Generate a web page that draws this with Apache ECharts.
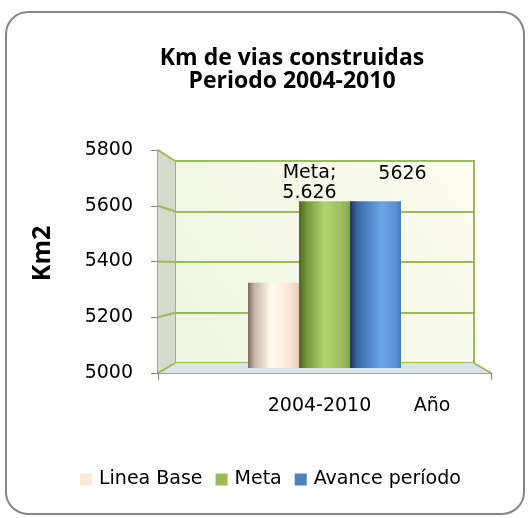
<!DOCTYPE html>
<html><head><meta charset="utf-8">
<script src="https://cdn.jsdelivr.net/npm/echarts@6/dist/echarts.min.js"></script>
<style>html,body{margin:0;padding:0;background:#fff}#c{width:531px;height:518px}</style>
</head><body><div id="c"></div>
<script>
// ---- data ----
const categories = ['2004-2010'];
const seriesNames = ['Linea Base', 'Meta', 'Avance período'];
const lineaBase = [5320];
const meta = [5626];
const avance = [5626];
const yMin = 5000, yMax = 5800, yStep = 200;
const titleLines = ['Km de vias construidas', 'Periodo 2004-2010'];
const yName = 'Km2';
const xName = 'Año';

// ---- layout ----
const W = 531, H = 518;
const front = {l: 158, r: 491, t: 150, b: 373};
const back = {l: 175, r: 474, t: 161, b: 363};
const barG = {l: 175, r: 474, t: 155, b: 368};
const FONT = 'DejaVu Sans';
const TFONT = 'Open Sans';
const green = '#9bbb59';
const grey = '#868686';

function dotThousands(v){ return String(v).replace(/\B(?=(\d{3})+(?!\d))/g, '.'); }
function hGrad(stops){ return new echarts.graphic.LinearGradient(0,0,1,0, stops.map(s=>({offset:s[0], color:s[1]}))); }

const yTicks = [];
for (let v = yMin; v <= yMax; v += yStep) yTicks.push(v);
const fy = v => front.b - (v - yMin) / (yMax - yMin) * (front.b - front.t);
const by = v => back.b - (v - yMin) / (yMax - yMin) * (back.b - back.t);

const graphics = [
  {type:'rect', shape:{x:6, y:12, width:518, height:502, r:22}, style:{fill:'none', stroke:grey, lineWidth:2}, z:0},
  {type:'polygon', shape:{points:[[front.l,front.t],[back.l,back.t],[back.l,back.b],[front.l,front.b]]}, style:{fill:'#d6dacd'}, z:1},
  {type:'polygon', shape:{points:[[front.l,front.b],[back.l,back.b],[back.r,back.b],[front.r,front.b]]}, style:{fill:'#dae2ea'}, z:1},
  {type:'line', shape:{x1:back.r, y1:back.b, x2:front.r, y2:front.b}, style:{stroke:green, lineWidth:2}, z:1}
];
yTicks.forEach(v => graphics.push({type:'line', shape:{x1:front.l, y1:fy(v), x2:back.l, y2:by(v)}, style:{stroke:green, lineWidth:2}, z:1}));

const chart = echarts.init(document.getElementById('c'), null, {renderer:'canvas'});
const grads = [
  hGrad([[0,'#7a6c64'],[0.12,'#c4b1a5'],[0.45,'#fffbf0'],[0.78,'#fde9d9'],[1,'#e6cdbd']]),
  hGrad([[0,'#4c6822'],[0.15,'#74953a'],[0.5,'#b3d36e'],[0.82,'#9fbf5d'],[1,'#88a84c']]),
  hGrad([[0,'#1c355e'],[0.15,'#3a68a6'],[0.62,'#6ca7ea'],[0.88,'#5a92d4'],[1,'#4a7dbd']])
];
const legendColors = ['#fde9d9', green, '#4f81bd'];
const values = [lineaBase, meta, avance];

const option = {
  animation: false,
  textStyle: {fontFamily: FONT},
  title: {
    text: titleLines.join('\n'),
    left: 292, top: 47, textAlign: 'center', padding: 0,
    textStyle: {fontFamily: TFONT, fontWeight: 'bold', fontSize: 23, lineHeight: 23, color: '#000'}
  },
  legend: {
    left: 80, top: 470, padding: 0, itemWidth: 12, itemHeight: 12, itemGap: 13, icon: 'rect',
    textStyle: {fontFamily: FONT, fontSize: 19, color: '#000', padding: [0,0,0,2]},
    data: seriesNames.map((n,i)=>({name:n, itemStyle:{color:legendColors[i]}}))
  },
  grid: [
    {left: front.l, right: W-front.r, top: front.t, bottom: H-front.b, show: false},
    {left: back.l, right: W-back.r, top: back.t, bottom: H-back.b, show: true, borderColor: green, borderWidth: 2,
     backgroundColor: new echarts.graphic.LinearGradient(0,1,1,0,[{offset:0,color:'#eef4e1'},{offset:1,color:'#fdfdf1'}])},
    {left: barG.l, right: W-barG.r, top: barG.t, bottom: H-barG.b, show: false}
  ],
  xAxis: [
    {gridIndex:0, type:'category', data: categories, boundaryGap: true,
     axisLine:{show:true, lineStyle:{color:grey, width:1.5}},
     axisTick:{show:true, length:7, lineStyle:{color:grey}},
     axisLabel:{fontFamily:FONT, fontSize:19, color:'#000', margin:24, padding:[0,10,0,0]},
     name: xName, nameLocation:'end', nameGap:-59,
     nameTextStyle:{fontFamily:FONT, fontSize:19, color:'#000', align:'center', verticalAlign:'top', padding:[24,0,0,0]}},
    {gridIndex:1, type:'category', data: categories, show:false},
    {gridIndex:2, type:'category', data: categories, show:false}
  ],
  yAxis: [
    {gridIndex:0, type:'value', min:yMin, max:yMax, interval:yStep,
     axisLine:{show:true, lineStyle:{color:grey, width:1.5}},
     axisTick:{show:true, length:7, lineStyle:{color:grey}},
     axisLabel:{fontFamily:FONT, fontSize:19, color:'#000', margin:25, formatter: v => String(v)},
     splitLine:{show:false},
     name: yName, nameLocation:'middle', nameGap:103,
     nameTextStyle:{fontFamily:TFONT, fontSize:25, fontWeight:'bold', color:'#000', padding:[0,0,0,16]}},
    {gridIndex:1, type:'value', min:yMin, max:yMax, interval:yStep,
     axisLine:{show:false}, axisTick:{show:false}, axisLabel:{show:false},
     splitLine:{show:true, lineStyle:{color:green, width:2}}},
    {gridIndex:2, type:'value', min:yMin, max:yMax, interval:yStep, show:false, splitLine:{show:false}}
  ],
  graphic: graphics,
  series: seriesNames.map((n,i)=>({
    name: n, type:'bar', xAxisIndex:2, yAxisIndex:2, data: values[i],
    barWidth: 51, barGap: '0%', z: 3,
    itemStyle: {color: grads[i]},
    label: i === 0 ? {show:false} : (i === 1 ? {
      show:true, position:'top', distance:0, offset:[-15,2], align:'center', lineHeight:20,
      fontFamily:FONT, fontSize:19, color:'#000',
      formatter: p => p.seriesName + ';\n' + dotThousands(p.value)
    } : {
      show:true, position:'top', distance:0, offset:[27,-18],
      fontFamily:FONT, fontSize:19, color:'#000',
      formatter: p => String(p.value)
    })
  }))
};
chart.setOption(option);
</script></body></html>
